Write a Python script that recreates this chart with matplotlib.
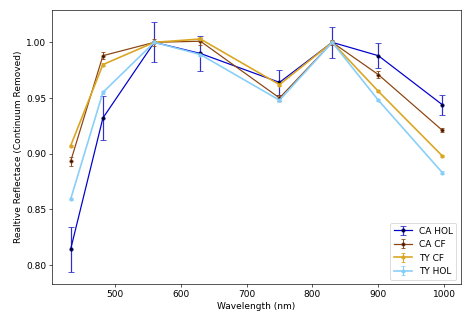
import matplotlib
matplotlib.use("Agg")
import matplotlib.pyplot as plt

wavelength = [433, 482, 560, 630, 750, 830, 900, 997]

ca_hol = [0.814, 0.932, 1.000, 0.990, 0.964, 1.000, 0.988, 0.944]
ca_hol_err = [0.020, 0.020, 0.018, 0.016, 0.011, 0.014, 0.011, 0.009]

ca_cf = [0.893, 0.988, 1.000, 1.001, 0.950, 1.000, 0.971, 0.921]
ca_cf_err = [0.004, 0.003, 0.003, 0.003, 0.003, 0.002, 0.003, 0.002]

ty_cf = [0.907, 0.980, 1.000, 1.003, 0.962, 1.000, 0.956, 0.898]
ty_cf_err = [0.001, 0.001, 0.001, 0.002, 0.001, 0.001, 0.001, 0.001]

ty_hol = [0.859, 0.955, 1.000, 0.989, 0.948, 1.000, 0.948, 0.883]
ty_hol_err = [0.001, 0.001, 0.001, 0.001, 0.002, 0.001, 0.001, 0.001]

plt.rcParams['font.size'] = 11

fig = plt.figure(figsize=(8.0, 5.48), dpi=58.6)
ax = fig.add_axes([0.111, 0.115, 0.872, 0.854])

ax.errorbar(wavelength, ca_hol, yerr=ca_hol_err, color='mediumblue', lw=1.5,
            marker='o', ms=4, mfc='black', mec='navy', ecolor='#3030c8',
            elinewidth=1.5, capsize=4, label='CA HOL')
ax.errorbar(wavelength, ca_cf, yerr=ca_cf_err, color='#8b4513', lw=1.5,
            marker='o', ms=4, mfc='#2a1005', mec='#8b4513',
            elinewidth=1.2, capsize=3, label='CA CF')
ax.errorbar(wavelength, ty_cf, yerr=ty_cf_err, color='goldenrod', lw=2,
            marker='o', ms=4, elinewidth=1.2, capsize=2, label='TY CF')
ax.errorbar(wavelength, ty_hol, yerr=ty_hol_err, color='lightskyblue', lw=2,
            marker='o', ms=4, elinewidth=1.2, capsize=2, label='TY HOL')

ax.set_xlabel('Wavelength (nm)')
ax.set_ylabel('Realtive Reflectace (Continuum Removed)')
ax.legend(loc='lower right')

fig.savefig('out.png', dpi=58.6)
